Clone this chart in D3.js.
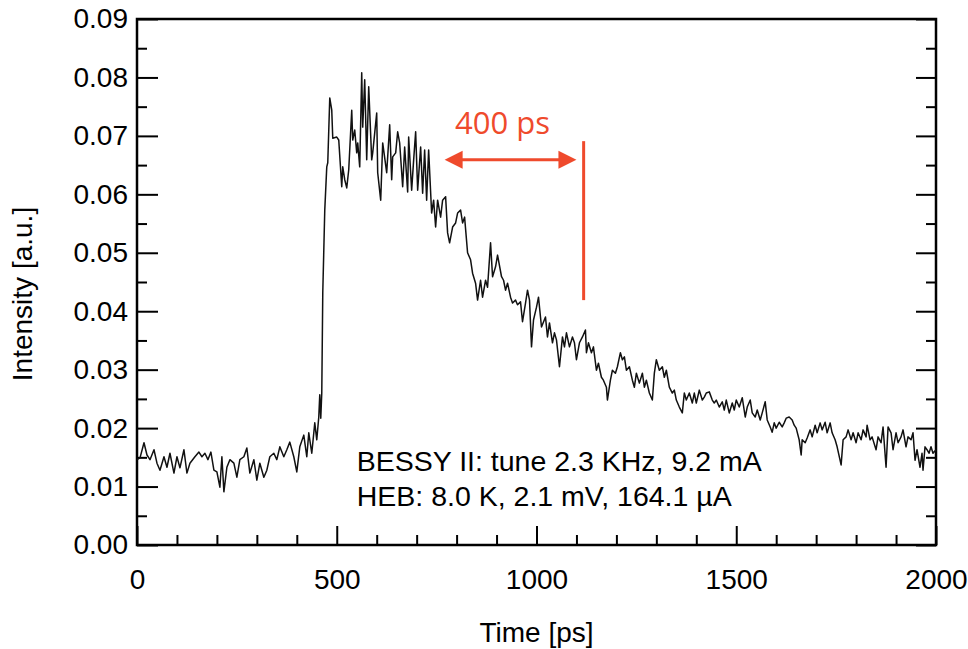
<!DOCTYPE html>
<html>
<head>
<meta charset="utf-8">
<script src="https://cdn.jsdelivr.net/npm/d3@7"></script>
<style>
  html, body { margin: 0; padding: 0; background: #fff; }
  svg { display: block; }
</style>
</head>
<body>
<svg id="chart" width="968" height="649"></svg>
<script>
// Time axis samples (ps) of the measured pulse
const timePs = [
  0, 7.5, 17.5, 25, 32.5, 42.5, 50, 57.5, 67.5, 75,
  82.5, 92.5, 100, 107.5, 117.5, 125, 132.5, 145, 155, 162.5,
  170, 177.5, 185, 192.5, 200, 207.5, 212.5, 217.5, 225, 232.5,
  242.5, 250, 257.5, 267.5, 275, 282.5, 292.5, 300, 307.5, 317.5,
  325, 332.5, 342.5, 350, 357.5, 367.5, 375, 382.5, 392.5, 400,
  407.5, 417.5, 425, 430, 437.5, 445, 450, 455, 457.5, 460,
  462.5, 465, 470, 475, 477.5, 482.5, 487.5, 490, 500, 505,
  512.5, 515, 520, 525, 530, 537.5, 540, 545, 550, 552.5,
  557.5, 562.5, 565, 570, 575, 580, 587.5, 590, 600, 602.5,
  610, 615, 625, 632.5, 637.5, 640, 647.5, 652.5, 657.5, 665,
  670, 677.5, 680, 687.5, 692.5, 697.5, 702.5, 710, 715, 720,
  725, 730, 737.5, 742.5, 747.5, 752.5, 760, 765, 772.5, 777.5,
  782.5, 790, 797.5, 802.5, 810, 815, 820, 827.5, 835, 840,
  847.5, 852.5, 860, 865, 872.5, 877.5, 885, 890, 897.5, 902.5,
  912.5, 917.5, 922.5, 927.5, 935, 940, 947.5, 952.5, 960, 965,
  972.5, 977.5, 982.5, 987.5, 992.5, 1000, 1005, 1012.5, 1022.5, 1027.5,
  1032.5, 1040, 1045, 1050, 1057.5, 1065, 1070, 1075, 1082.5, 1090,
  1095, 1100, 1107.5, 1115, 1122.5, 1125, 1130, 1137.5, 1142.5, 1150,
  1155, 1162.5, 1167.5, 1175, 1177.5, 1185, 1190, 1197.5, 1202.5, 1210,
  1215, 1220, 1225, 1232.5, 1240, 1245, 1250, 1257.5, 1265, 1270,
  1275, 1282.5, 1290, 1295, 1300, 1307.5, 1315, 1320, 1325, 1332.5,
  1340, 1345, 1350, 1357.5, 1365, 1370, 1375, 1382.5, 1390, 1395,
  1400, 1407.5, 1415, 1420, 1425, 1432.5, 1440, 1445, 1450, 1457.5,
  1465, 1470, 1475, 1482.5, 1490, 1495, 1500, 1507.5, 1515, 1522.5,
  1527.5, 1535, 1540, 1547.5, 1552.5, 1560, 1565, 1572.5, 1577.5, 1585,
  1590, 1595, 1600, 1607.5, 1615, 1620, 1625, 1632.5, 1640, 1645,
  1650, 1657.5, 1662.5, 1665, 1672.5, 1677.5, 1685, 1690, 1697.5, 1702.5,
  1710, 1715, 1722.5, 1727.5, 1735, 1740, 1747.5, 1752.5, 1762.5, 1767.5,
  1775, 1780, 1787.5, 1792.5, 1800, 1805, 1812.5, 1817.5, 1825, 1827.5,
  1835, 1840, 1850, 1855, 1862.5, 1867.5, 1875, 1880, 1887.5, 1892.5,
  1900, 1905, 1912.5, 1917.5, 1925, 1930, 1937.5, 1942.5, 1947.5, 1952.5,
  1960, 1965, 1967.5, 1972.5, 1977.5, 1982.5, 1987.5, 1992.5, 2000
];

// Detector intensity (a.u.) at each time sample
const intensity = [
  0.0146, 0.0149, 0.0175, 0.0154, 0.0146, 0.0163, 0.0140, 0.0128, 0.0151, 0.0133,
  0.0157, 0.0123, 0.0151, 0.0132, 0.0163, 0.0123, 0.0140, 0.0151, 0.0159, 0.0151,
  0.0157, 0.0146, 0.0159, 0.0128, 0.0125, 0.0099, 0.0151, 0.0091, 0.0133, 0.0146,
  0.0140, 0.0116, 0.0146, 0.0151, 0.0166, 0.0123, 0.0146, 0.0111, 0.0140, 0.0116,
  0.0128, 0.0151, 0.0157, 0.0146, 0.0168, 0.0151, 0.0163, 0.0176, 0.0151, 0.0125,
  0.0168, 0.0188, 0.0151, 0.0192, 0.0157, 0.0209, 0.0180, 0.0219, 0.0257, 0.0217,
  0.0260, 0.0431, 0.0573, 0.0647, 0.0654, 0.0765, 0.0744, 0.0696, 0.0698, 0.0693,
  0.0613, 0.0647, 0.0625, 0.0611, 0.0642, 0.0744, 0.0693, 0.0710, 0.0671, 0.0688,
  0.0647, 0.0808, 0.0715, 0.0796, 0.0659, 0.0784, 0.0659, 0.0671, 0.0739, 0.0637,
  0.0590, 0.0688, 0.0637, 0.0719, 0.0625, 0.0664, 0.0671, 0.0707, 0.0688, 0.0613,
  0.0681, 0.0604, 0.0698, 0.0607, 0.0659, 0.0707, 0.0607, 0.0681, 0.0602, 0.0676,
  0.0590, 0.0676, 0.0568, 0.0590, 0.0544, 0.0590, 0.0561, 0.0590, 0.0596, 0.0534,
  0.0517, 0.0544, 0.0551, 0.0568, 0.0573, 0.0551, 0.0561, 0.0500, 0.0488, 0.0465,
  0.0448, 0.0419, 0.0453, 0.0424, 0.0453, 0.0441, 0.0517, 0.0459, 0.0476, 0.0496,
  0.0459, 0.0453, 0.0436, 0.0448, 0.0424, 0.0414, 0.0419, 0.0411, 0.0416, 0.0382,
  0.0414, 0.0436, 0.0419, 0.0339, 0.0385, 0.0407, 0.0424, 0.0373, 0.0390, 0.0356,
  0.0380, 0.0346, 0.0363, 0.0351, 0.0305, 0.0356, 0.0339, 0.0363, 0.0339, 0.0356,
  0.0346, 0.0317, 0.0346, 0.0356, 0.0368, 0.0329, 0.0346, 0.0329, 0.0339, 0.0299,
  0.0311, 0.0287, 0.0282, 0.0270, 0.0248, 0.0282, 0.0299, 0.0294, 0.0305, 0.0329,
  0.0317, 0.0322, 0.0299, 0.0305, 0.0282, 0.0270, 0.0294, 0.0277, 0.0294, 0.0270,
  0.0282, 0.0260, 0.0248, 0.0294, 0.0317, 0.0299, 0.0305, 0.0287, 0.0299, 0.0270,
  0.0260, 0.0265, 0.0248, 0.0236, 0.0226, 0.0260, 0.0248, 0.0260, 0.0243, 0.0260,
  0.0243, 0.0265, 0.0248, 0.0253, 0.0260, 0.0262, 0.0248, 0.0243, 0.0248, 0.0236,
  0.0245, 0.0231, 0.0248, 0.0226, 0.0243, 0.0231, 0.0248, 0.0236, 0.0252, 0.0219,
  0.0236, 0.0248, 0.0226, 0.0219, 0.0231, 0.0214, 0.0226, 0.0245, 0.0214, 0.0202,
  0.0193, 0.0209, 0.0200, 0.0210, 0.0202, 0.0209, 0.0217, 0.0219, 0.0214, 0.0205,
  0.0200, 0.0180, 0.0154, 0.0180, 0.0175, 0.0183, 0.0197, 0.0185, 0.0205, 0.0192,
  0.0209, 0.0197, 0.0210, 0.0192, 0.0209, 0.0192, 0.0180, 0.0168, 0.0137, 0.0180,
  0.0185, 0.0197, 0.0180, 0.0192, 0.0175, 0.0192, 0.0180, 0.0197, 0.0185, 0.0205,
  0.0180, 0.0185, 0.0163, 0.0185, 0.0175, 0.0202, 0.0133, 0.0202, 0.0192, 0.0163,
  0.0192, 0.0175, 0.0185, 0.0197, 0.0168, 0.0185, 0.0180, 0.0192, 0.0145, 0.0163,
  0.0133, 0.0157, 0.0128, 0.0168, 0.0163, 0.0157, 0.0168, 0.0157, 0.0163
];

// Axis ticks
const xMajorTicks = [0, 500, 1000, 1500, 2000];
const xMinorTicks = d3.range(0, 2001, 100).filter(d => d % 500 !== 0);
const yMajorTicks = [0, 0.01, 0.02, 0.03, 0.04, 0.05, 0.06, 0.07, 0.08, 0.09];
const yMinorTicks = [0.005, 0.015, 0.025, 0.035, 0.045, 0.055, 0.065, 0.075, 0.085];

// Labels
const xTitle = "Time [ps]";
const yTitle = "Intensity [a.u.]";
const infoLines = ["BESSY II: tune 2.3 KHz, 9.2 mA", "HEB: 8.0 K, 2.1 mV, 164.1 µA"];
const spanLabel = "400 ps";
// Span marker: arrow from/to (ps) at a height, and the end line
const spanArrow = { from: 770, to: 1100, level: 0.0659 };
const spanLine = { at: 1118, low: 0.0419, high: 0.0691 };

const svg = d3.select("#chart");
const plot = { left: 137, right: 936, top: 19, bottom: 545 };

const x = d3.scaleLinear().domain([0, 2000]).range([plot.left, plot.right]);
const y = d3.scaleLinear().domain([0, 0.09]).range([plot.bottom, plot.top]);

const axisFont = "'Liberation Sans', Arial, sans-serif";
const tickFs = 28;
const red = "#ef4a2c";

function styleAxis(g, width) {
  g.select(".domain").remove();
  g.selectAll(".tick line").attr("stroke", "#000").attr("stroke-width", width);
  g.selectAll(".tick text").attr("fill", "#000")
    .style("font-family", axisFont).style("font-size", tickFs + "px");
}

// Bottom axis (inward ticks)
svg.append("g").attr("transform", `translate(0,${plot.bottom})`)
  .call(d3.axisBottom(x).tickValues(xMajorTicks).tickSize(-19).tickPadding(24).tickFormat(d3.format("d")))
  .call(g => styleAxis(g, 2));
svg.append("g").attr("transform", `translate(0,${plot.bottom})`)
  .call(d3.axisBottom(x).tickValues(xMinorTicks).tickSize(-10).tickFormat(""))
  .call(g => styleAxis(g, 2));

// Left axis
svg.append("g").attr("transform", `translate(${plot.left},0)`)
  .call(d3.axisLeft(y).tickValues(yMajorTicks).tickSize(-21).tickPadding(9).tickFormat(d3.format(".2f")))
  .call(g => styleAxis(g, 2));
svg.append("g").attr("transform", `translate(${plot.left},0)`)
  .call(d3.axisLeft(y).tickValues(yMinorTicks).tickSize(-10).tickFormat(""))
  .call(g => styleAxis(g, 2));

// Right axis (ticks only)
svg.append("g").attr("transform", `translate(${plot.right},0)`)
  .call(d3.axisRight(y).tickValues(yMajorTicks).tickSize(-20).tickFormat(""))
  .call(g => styleAxis(g, 2));
svg.append("g").attr("transform", `translate(${plot.right},0)`)
  .call(d3.axisRight(y).tickValues(yMinorTicks).tickSize(-10).tickFormat(""))
  .call(g => styleAxis(g, 2));

// Plot frame
svg.append("rect")
  .attr("x", plot.left).attr("y", plot.top)
  .attr("width", plot.right - plot.left).attr("height", plot.bottom - plot.top)
  .attr("fill", "none").attr("stroke", "#000").attr("stroke-width", 2.5);

// Axis titles
svg.append("text")
  .attr("x", (plot.left + plot.right) / 2).attr("y", 642)
  .attr("text-anchor", "middle")
  .style("font-family", axisFont).style("font-size", tickFs + "px")
  .text(xTitle);
svg.append("text")
  .attr("transform", `translate(32,${(plot.top + plot.bottom) / 2 + 12}) rotate(-90)`)
  .attr("text-anchor", "middle")
  .style("font-family", axisFont).style("font-size", tickFs + "px")
  .text(yTitle);

// Measured trace
const points = d3.zip(timePs, intensity);
svg.append("path")
  .datum(points)
  .attr("fill", "none")
  .attr("stroke", "#111")
  .attr("stroke-width", 1.5)
  .attr("stroke-linejoin", "round")
  .attr("d", d3.line().x(d => x(d[0])).y(d => y(d[1])));

// Measurement conditions
svg.selectAll("text.info")
  .data(infoLines)
  .join("text")
  .attr("class", "info")
  .attr("x", x(550))
  .attr("y", (d, i) => y(0.0127) + i * 35)
  .style("font-family", axisFont).style("font-size", "28.5px")
  .text(d => d);

// 400 ps span marker
const ay = y(spanArrow.level);
const ax0 = x(spanArrow.from), ax1 = x(spanArrow.to);
const headL = 18, headW = 9;
svg.append("line")
  .attr("x1", ax0 + headL - 2).attr("x2", ax1 - headL + 2)
  .attr("y1", ay).attr("y2", ay)
  .attr("stroke", red).attr("stroke-width", 3);
svg.append("path")
  .attr("d", `M${ax0},${ay} L${ax0 + headL},${ay - headW} L${ax0 + headL},${ay + headW} Z`)
  .attr("fill", red);
svg.append("path")
  .attr("d", `M${ax1},${ay} L${ax1 - headL},${ay - headW} L${ax1 - headL},${ay + headW} Z`)
  .attr("fill", red);
svg.append("line")
  .attr("x1", x(spanLine.at)).attr("x2", x(spanLine.at))
  .attr("y1", y(spanLine.high)).attr("y2", y(spanLine.low))
  .attr("stroke", red).attr("stroke-width", 3);
svg.append("text")
  .attr("x", x(915)).attr("y", y(0.0703))
  .attr("text-anchor", "middle")
  .attr("fill", red)
  .style("font-family", "'Open Sans', 'Noto Sans', sans-serif")
  .style("font-size", "31px")
  .text(spanLabel);
</script>
</body>
</html>
